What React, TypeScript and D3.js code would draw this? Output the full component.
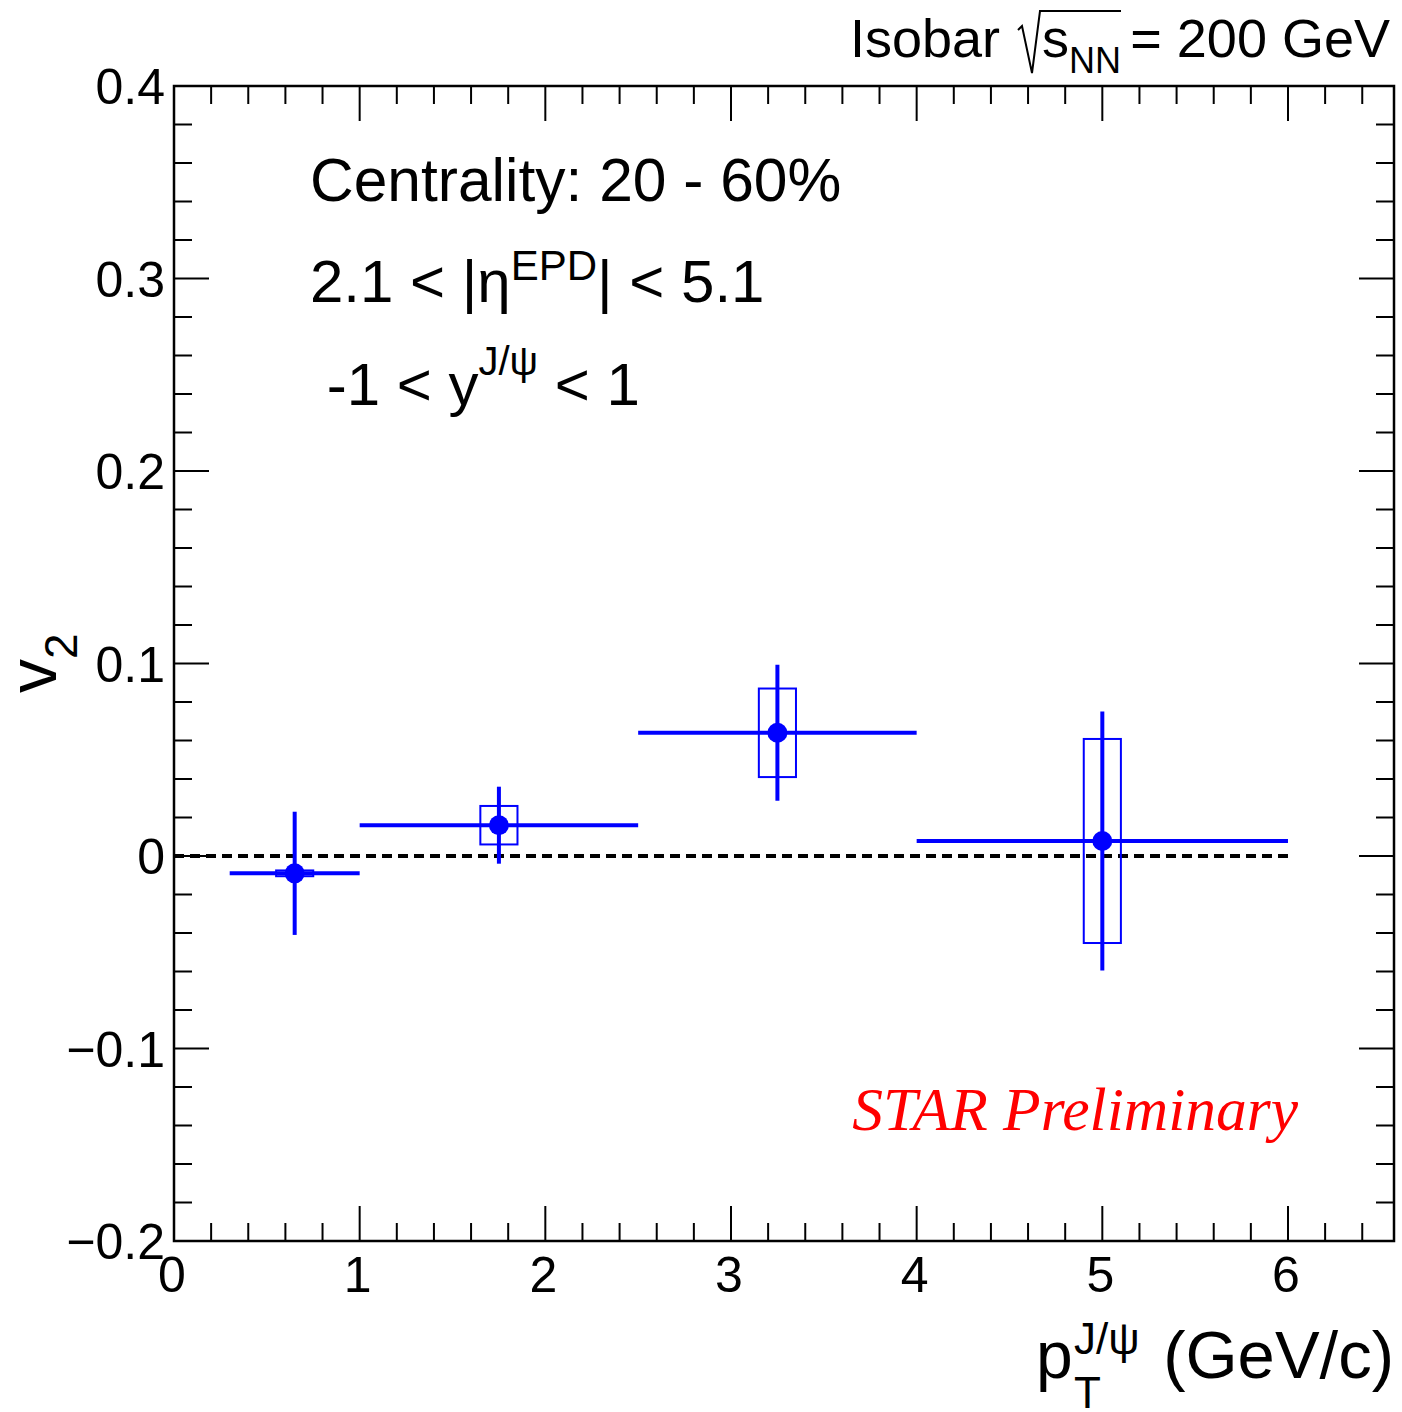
import React from "react";
import * as d3 from "d3";

const pt = [0.65, 1.75, 3.25, 5.0];
const ptLow = [0.3, 1.0, 2.5, 4.0];
const ptHigh = [1.0, 2.5, 4.0, 6.0];
const v2 = [-0.009, 0.016, 0.064, 0.0078];
const statErr = [0.032, 0.020, 0.0353, 0.0673];
const sysErr = [0.0015, 0.010, 0.023, 0.053];
const sysHalfWidth = 0.1;

const xMajor = [0, 1, 2, 3, 4, 5, 6];
const xMajorLabels = ["0", "1", "2", "3", "4", "5", "6"];
const yMajor = [-0.2, -0.1, 0, 0.1, 0.2, 0.3, 0.4];
const yMajorLabels = ["\u22120.2", "\u22120.1", "0", "0.1", "0.2", "0.3", "0.4"];

const W = 1402;
const H = 1412;
const L = 174, R = 1394, T = 86, B = 1241;
const FONT = "'Liberation Sans', Arial, Helvetica, sans-serif";
const BLUE = "#0000ff";

export default function App() {
  const x = d3.scaleLinear().domain([0, 6.571]).range([L, R]);
  const y = d3.scaleLinear().domain([-0.2, 0.4]).range([B, T]);

  const xMinor = d3.range(0, 6.571, 0.2).filter((v) => Math.abs(v - Math.round(v)) > 1e-6);
  const yMinor = d3.range(-0.2, 0.4001, 0.02).filter((v) => Math.abs(v * 10 - Math.round(v * 10)) > 1e-6);

  const majLen = 35, minLen = 18;

  return (
    <svg
      width={W}
      height={H}
      style={{ display: "block", background: "#fff", position: "absolute", left: 0, top: 0 }}
      fontFamily={FONT}
    >
      <rect x={0} y={0} width={W} height={H} fill="#fff" />
      {/* ticks */}
      <g stroke="#000" strokeWidth={2}>
        {xMajor.map((v, i) => (
          <g key={"xm" + i}>
            <line x1={x(v)} x2={x(v)} y1={B} y2={B - majLen} />
            <line x1={x(v)} x2={x(v)} y1={T} y2={T + majLen} />
          </g>
        ))}
        {xMinor.map((v, i) => (
          <g key={"xn" + i}>
            <line x1={x(v)} x2={x(v)} y1={B} y2={B - minLen} />
            <line x1={x(v)} x2={x(v)} y1={T} y2={T + minLen} />
          </g>
        ))}
        {yMajor.map((v, i) => (
          <g key={"ym" + i}>
            <line x1={L} x2={L + majLen} y1={y(v)} y2={y(v)} />
            <line x1={R} x2={R - majLen} y1={y(v)} y2={y(v)} />
          </g>
        ))}
        {yMinor.map((v, i) => (
          <g key={"yn" + i}>
            <line x1={L} x2={L + minLen} y1={y(v)} y2={y(v)} />
            <line x1={R} x2={R - minLen} y1={y(v)} y2={y(v)} />
          </g>
        ))}
      </g>
      <rect x={L} y={T} width={R - L} height={B - T} fill="none" stroke="#000" strokeWidth={2.5} />

      {/* tick labels */}
      {xMajor.map((v, i) => (
        <text key={"xl" + i} x={x(v) - 2} y={1292} fontSize={50} textAnchor="middle" fill="#000">
          {xMajorLabels[i]}
        </text>
      ))}
      {yMajor.map((v, i) => (
        <text key={"yl" + i} x={165} y={y(v) + 18} fontSize={50} textAnchor="end" fill="#000">
          {yMajorLabels[i]}
        </text>
      ))}

      {/* zero line */}
      <line x1={x(0)} x2={x(6)} y1={y(0)} y2={y(0)} stroke="#000" strokeWidth={4} strokeDasharray="10,6" />

      {/* data */}
      {pt.map((p, i) => (
        <g key={"d" + i}>
          <rect
            x={x(p - sysHalfWidth)}
            y={y(v2[i] + sysErr[i])}
            width={x(p + sysHalfWidth) - x(p - sysHalfWidth)}
            height={y(v2[i] - sysErr[i]) - y(v2[i] + sysErr[i])}
            fill="none"
            stroke={BLUE}
            strokeWidth={2}
          />
          <line x1={x(ptLow[i])} x2={x(ptHigh[i])} y1={y(v2[i])} y2={y(v2[i])} stroke={BLUE} strokeWidth={4} />
          <line x1={x(p)} x2={x(p)} y1={y(v2[i] + statErr[i])} y2={y(v2[i] - statErr[i])} stroke={BLUE} strokeWidth={4} />
          <circle cx={x(p)} cy={y(v2[i])} r={10} fill={BLUE} />
        </g>
      ))}

      {/* title */}
      <text x={850} y={57} fontSize={54} fill="#000">Isobar</text>
      <path d="M1018,30 L1022,26 L1032,73 L1040,11 L1121,11" fill="none" stroke="#000" strokeWidth={2} />
      <text x={1042} y={57} fontSize={54} fill="#000">s</text>
      <text x={1069} y={73} fontSize={36} fill="#000">NN</text>
      <text x={1390} y={57} fontSize={54} textAnchor="end" fill="#000">= 200 GeV</text>

      {/* annotations */}
      <text x={310} y={201} fontSize={60.5} fill="#000">Centrality: 20 - 60%</text>
      <text x={310} y={302} fontSize={60} fill="#000">
        2.1 &lt; |η<tspan fontSize={42} dy={-22}>EPD</tspan><tspan dy={22}>| &lt; 5.1</tspan>
      </text>
      <text x={310} y={405} fontSize={60} fill="#000" xmlSpace="preserve">
        {" -1 < y"}<tspan fontSize={40} dy={-30}>J/ψ</tspan><tspan dy={30}>{" < 1"}</tspan>
      </text>

      {/* STAR Preliminary */}
      <text x={1298} y={1130} fontSize={61.5} textAnchor="end" fill="#ff0000" fontStyle="italic" fontFamily="'Liberation Serif', 'Times New Roman', serif">
        STAR Preliminary
      </text>

      {/* axis titles */}
      <g transform="translate(56,693) rotate(-90)">
        <text x={0} y={0} fontSize={68} fill="#000">
          v<tspan fontSize={46} dy={21}>2</tspan>
        </text>
      </g>
      <text x={1036} y={1378} fontSize={66} fill="#000">p</text>
      <text x={1074} y={1354} fontSize={44} fill="#000">J/ψ</text>
      <text x={1074} y={1408} fontSize={44} fill="#000">T</text>
      <text x={1394} y={1378} fontSize={67} textAnchor="end" fill="#000">(GeV/c)</text>
    </svg>
  );
}
